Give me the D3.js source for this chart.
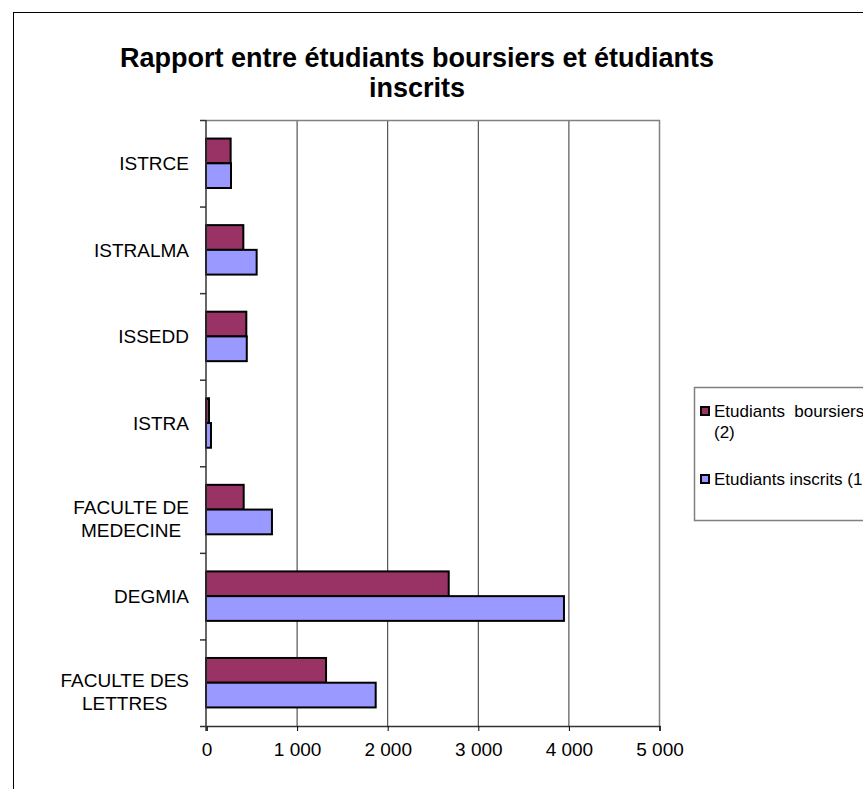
<!DOCTYPE html>
<html>
<head>
<meta charset="utf-8">
<script src="https://cdn.jsdelivr.net/npm/d3@7"></script>
<style>
  body { margin: 0; background: #fff; }
  svg { display: block; font-family: "Liberation Sans", Arial, sans-serif; }
</style>
</head>
<body>
<svg id="chart" width="863" height="789"></svg>
<script>
// données
const categories = ["ISTRCE", "ISTRALMA", "ISSEDD", "ISTRA", "FACULTE DE MEDECINE", "DEGMIA", "FACULTE DES LETTRES"];
const categoryLines = [["ISTRCE"], ["ISTRALMA"], ["ISSEDD"], ["ISTRA"], ["FACULTE DE", "MEDECINE"], ["DEGMIA"], ["FACULTE DES", "LETTRES"]];
const boursiers = [272, 412, 445, 33, 416, 2679, 1325];
const inscrits = [276, 559, 450, 55, 728, 3951, 1873];
const xTicks = [0, 1000, 2000, 3000, 4000, 5000];
const colors = ["#993366", "#9999FF"];

const svg = d3.select("#chart");

// cadre extérieur
svg.append("rect")
    .attr("x", 13.5).attr("y", 12.5)
    .attr("width", 900).attr("height", 800)
    .attr("fill", "none").attr("stroke", "#000").attr("stroke-width", 1);

const x = d3.scaleLinear().domain([0, 5000]).range([206, 659]);
const y = d3.scaleBand().domain(categories).range([120, 726]);
const ySub = d3.scaleBand().domain([0, 1]).range([0, y.bandwidth()]).paddingOuter(0.75);

// titre
svg.append("text")
    .attr("x", 417).attr("y", 67)
    .attr("text-anchor", "middle")
    .attr("font-size", 27).attr("font-weight", "bold")
    .text("Rapport entre étudiants boursiers et étudiants");
svg.append("text")
    .attr("x", 417).attr("y", 97)
    .attr("text-anchor", "middle")
    .attr("font-size", 27).attr("font-weight", "bold")
    .text("inscrits");

// grille
svg.append("g").selectAll("line")
    .data(xTicks.slice(1, -1))
    .join("line")
    .attr("x1", d => x(d) + 0.5).attr("x2", d => x(d) + 0.5)
    .attr("y1", 120).attr("y2", 726)
    .attr("stroke", "#333").attr("stroke-width", 1);

// bordure de la zone de tracé
svg.append("path")
    .attr("d", `M206,120.5H659.5V726`)
    .attr("fill", "none").attr("stroke", "#808080").attr("stroke-width", 1.5);

// barres
const rows = categories.map((c, i) => ({cat: c, vals: [boursiers[i], inscrits[i]]}));
const groups = svg.append("g").selectAll("g")
    .data(rows)
    .join("g")
    .attr("transform", d => `translate(0,${y(d.cat)})`);

groups.selectAll("rect")
    .data(d => d.vals.map((v, k) => ({v, k})))
    .join("rect")
    .attr("x", x(0))
    .attr("y", d => ySub(d.k))
    .attr("width", d => x(d.v) - x(0))
    .attr("height", ySub.bandwidth())
    .attr("fill", d => colors[d.k])
    .attr("stroke", "#000").attr("stroke-width", 2);

// axe horizontal
const xAxis = d3.axisBottom(x)
    .tickValues(xTicks)
    .tickSize(5)
    .tickFormat(d => d3.format(",")(d).replace(/,/g, " "));
const gx = svg.append("g").attr("transform", "translate(0.5,726)").call(xAxis);
gx.select(".domain").attr("stroke", "#333").attr("stroke-width", 1.5);
gx.selectAll(".tick line").attr("stroke", "#000");
gx.selectAll(".tick text").attr("font-size", 19).attr("font-family", "Liberation Sans, Arial, sans-serif")
    .attr("fill", "#000").attr("y", 0).attr("dy", 0).attr("transform", "translate(0,30)");

// axe vertical
svg.append("line")
    .attr("x1", 206).attr("x2", 206).attr("y1", 120).attr("y2", 731)
    .attr("stroke", "#333").attr("stroke-width", 1.5);
const bounds = categories.map(c => y(c)).concat([726]);
svg.append("g").selectAll("line")
    .data(bounds)
    .join("line")
    .attr("x1", 200).attr("x2", 206)
    .attr("y1", d => d + 0.5).attr("y2", d => d + 0.5)
    .attr("stroke", "#333").attr("stroke-width", 1.5);

// étiquettes des catégories
const labels = svg.append("g").selectAll("text")
    .data(categoryLines)
    .join("text")
    .attr("font-size", 19)
    .attr("text-anchor", "middle");
labels.each(function(lines, i) {
    const t = d3.select(this);
    const cy = y(categories[i]) + y.bandwidth() / 2;
    const offsets = lines.length === 1 ? [0] : [-2.5, 20.5];
    lines.forEach((l, j) => {
        t.append("tspan")
            .attr("y", cy + offsets[j] + 7)
            .text(l);
    });
    let w = 0;
    t.selectAll("tspan").each(function() { w = Math.max(w, this.getComputedTextLength()); });
    t.selectAll("tspan").attr("x", 189 - w / 2);
});

// légende
const leg = svg.append("g");
leg.append("rect")
    .attr("x", 694.5).attr("y", 387.5)
    .attr("width", 300).attr("height", 133)
    .attr("fill", "#fff").attr("stroke", "#808080").attr("stroke-width", 1.5);
const legItems = [
    {lines: ["Etudiants  boursiers", "(2)"], y: 407, color: colors[0]},
    {lines: ["Etudiants inscrits (1"], y: 475, color: colors[1]}
];
legItems.forEach(it => {
    leg.append("rect")
        .attr("x", 701).attr("y", it.y)
        .attr("width", 8).attr("height", 8)
        .attr("fill", it.color).attr("stroke", "#000").attr("stroke-width", 2);
    const t = leg.append("text").attr("font-size", 17).style("white-space", "pre");
    it.lines.forEach((l, j) => {
        t.append("tspan").attr("x", 714).attr("y", it.y + 10 + j * 21).text(l);
    });
});
</script>
</body>
</html>
